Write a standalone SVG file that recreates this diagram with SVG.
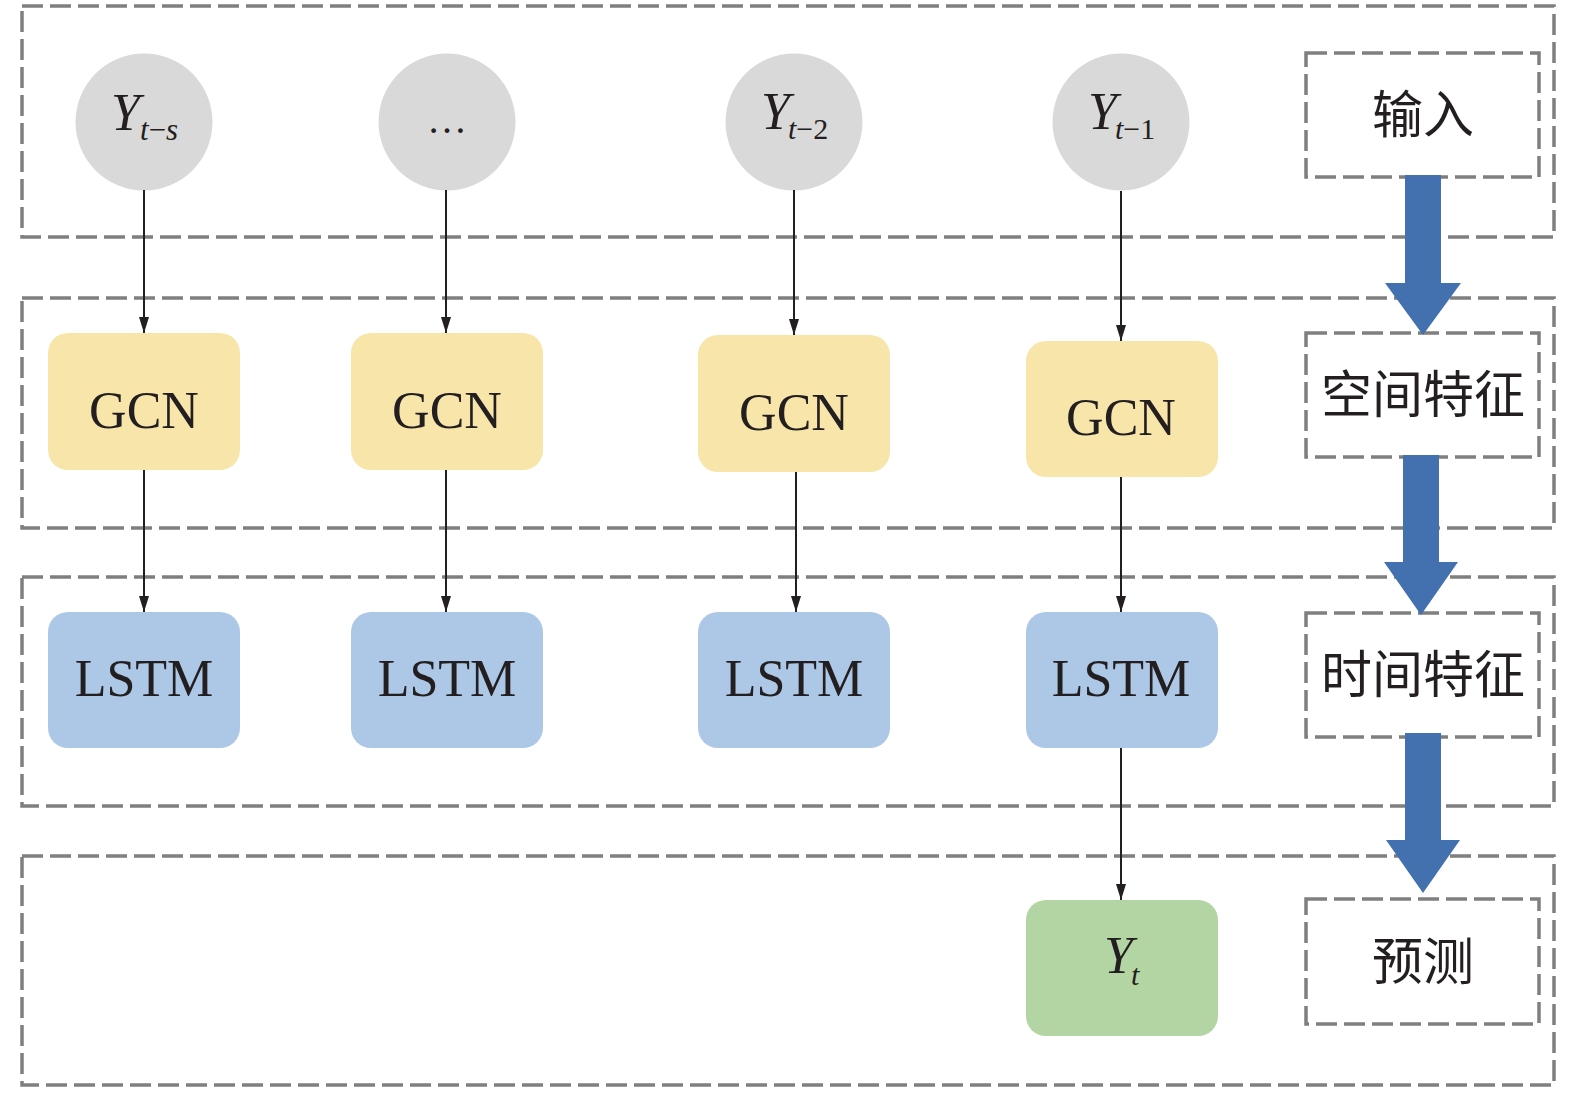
<svg xmlns="http://www.w3.org/2000/svg" width="1575" height="1093" viewBox="0 0 1575 1093">
<style>
.frame{fill:none;stroke:#7f7f7f;stroke-width:3.5;stroke-dasharray:21 7}
.lab{fill:#fff;stroke:#7f7f7f;stroke-width:3.5;stroke-dasharray:21 7}
.circ{fill:#d9d9d9}
.gcn{fill:#f8e5aa}
.lstm{fill:#adc8e6}
.out{fill:#b3d5a4}
.t{font-family:"Liberation Serif","Times New Roman",serif;fill:#231f20}
.box{font-size:52px;text-anchor:middle}
.cn{font-family:"Noto Sans CJK SC","Noto Sans",sans-serif;font-size:51px;fill:#231f20;text-anchor:middle}
.conn{stroke:#231f20;stroke-width:2;fill:none;marker-end:url(#ah)}
.big{fill:#4371b0}
</style>
<defs>
<marker id="ah" viewBox="0 0 16 10" refX="16" refY="5" markerWidth="16" markerHeight="10" markerUnits="userSpaceOnUse" orient="auto">
<path d="M0,0 L16,5 L0,10 Z" fill="#231f20"/>
</marker>
</defs>
<rect width="1575" height="1093" fill="#fff"/>
<g id="frames">
<rect class="frame" x="22" y="6" width="1532" height="231"/>
<rect class="frame" x="22" y="298" width="1532" height="230"/>
<rect class="frame" x="22" y="577" width="1532" height="229"/>
<rect class="frame" x="22" y="856" width="1532" height="229"/>
</g>
<g id="in1"><circle class="circ" cx="144" cy="122" r="68.5"/>
<text class="t" y="130"><tspan x="111" font-size="52" font-style="italic">Y</tspan><tspan x="140" y="140" font-size="31"><tspan font-style="italic">t</tspan>−<tspan font-style="italic">s</tspan></tspan></text></g>
<g id="in2"><circle class="circ" cx="447" cy="122" r="68.5"/>
<text class="t" x="447" y="133" font-size="40" text-anchor="middle">…</text></g>
<g id="in3"><circle class="circ" cx="794" cy="122" r="68.5"/>
<text class="t" y="129"><tspan x="761" font-size="52" font-style="italic">Y</tspan><tspan x="788" y="139" font-size="30"><tspan font-style="italic">t</tspan>−2</tspan></text></g>
<g id="in4"><circle class="circ" cx="1121" cy="122" r="68.5"/>
<text class="t" y="129"><tspan x="1088" font-size="52" font-style="italic">Y</tspan><tspan x="1115" y="139" font-size="30"><tspan font-style="italic">t</tspan>−1</tspan></text></g>
<g id="gcn1"><rect class="gcn" x="48" y="333" width="192" height="137" rx="20"/><text class="t box" x="144" y="428">GCN</text></g>
<g id="gcn2"><rect class="gcn" x="351" y="333" width="192" height="137" rx="20"/><text class="t box" x="447" y="428">GCN</text></g>
<g id="gcn3"><rect class="gcn" x="698" y="335" width="192" height="137" rx="20"/><text class="t box" x="794" y="430">GCN</text></g>
<g id="gcn4"><rect class="gcn" x="1026" y="341" width="192" height="136" rx="20"/><text class="t box" x="1121" y="435">GCN</text></g>
<g id="lstm1"><rect class="lstm" x="48" y="612" width="192" height="136" rx="20"/><text class="t box" x="144" y="696" font-size="53">LSTM</text></g>
<g id="lstm2"><rect class="lstm" x="351" y="612" width="192" height="136" rx="20"/><text class="t box" x="447" y="696" font-size="53">LSTM</text></g>
<g id="lstm3"><rect class="lstm" x="698" y="612" width="192" height="136" rx="20"/><text class="t box" x="794" y="696" font-size="53">LSTM</text></g>
<g id="lstm4"><rect class="lstm" x="1026" y="612" width="192" height="136" rx="20"/><text class="t box" x="1121" y="696" font-size="53">LSTM</text></g>
<g id="yt"><rect class="out" x="1026" y="900" width="192" height="136" rx="20"/>
<text class="t" y="973"><tspan x="1104" font-size="52" font-style="italic">Y</tspan><tspan x="1131" y="985" font-size="30" font-style="italic">t</tspan></text></g>
<g id="connectors">
<line class="conn" x1="144" y1="190" x2="144" y2="333"/>
<line class="conn" x1="446" y1="190" x2="446" y2="333"/>
<line class="conn" x1="794" y1="190" x2="794" y2="335"/>
<line class="conn" x1="1121" y1="191" x2="1121" y2="341"/>
<line class="conn" x1="144" y1="470" x2="144" y2="612"/>
<line class="conn" x1="446" y1="470" x2="446" y2="612"/>
<line class="conn" x1="796" y1="472" x2="796" y2="612"/>
<line class="conn" x1="1121" y1="477" x2="1121" y2="612"/>
<line class="conn" x1="1121" y1="748" x2="1121" y2="900"/>
</g>
<g id="label-input"><rect class="lab" x="1306" y="53" width="233" height="124"/><text class="cn" x="1423" y="133">输入</text></g>
<g id="label-spatial"><rect class="lab" x="1306" y="333" width="233" height="124"/><text class="cn" x="1423" y="413">空间特征</text></g>
<g id="label-temporal"><rect class="lab" x="1306" y="613" width="233" height="124"/><text class="cn" x="1423" y="693">时间特征</text></g>
<g id="label-predict"><rect class="lab" x="1306" y="899" width="233" height="125"/><text class="cn" x="1423" y="980">预测</text></g>
<g id="flow">
<polygon class="big" points="1405,175 1441,175 1441,283 1461,283 1423,335 1385,283 1405,283"/>
<polygon class="big" points="1403,455 1439,455 1439,562 1458,562 1421,615 1384,562 1403,562"/>
<polygon class="big" points="1405,733 1441,733 1441,840 1460,840 1423,893 1386,840 1405,840"/>
</g>
</svg>
